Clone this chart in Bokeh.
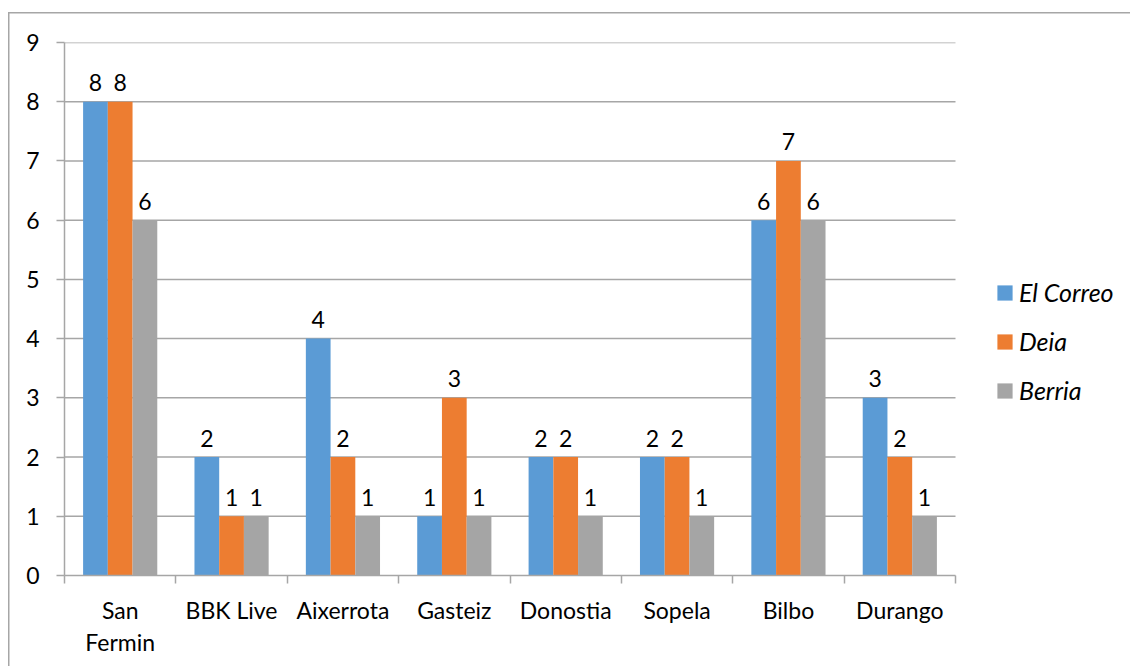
from bokeh.plotting import figure
from bokeh.models import ColumnDataSource, FixedTicker, Legend, LegendItem
from bokeh.transform import dodge
from bokeh.core.properties import value
from bokeh.embed import file_html
from bokeh.resources import INLINE

categories = ["San\nFermin", "BBK Live", "Aixerrota", "Gasteiz", "Donostia", "Sopela", "Bilbo", "Durango"]
el_correo = [8, 2, 4, 1, 2, 2, 6, 3]
deia = [8, 1, 2, 3, 2, 2, 7, 2]
berria = [6, 1, 1, 1, 1, 1, 6, 1]
series_names = ["El Correo", "Deia", "Berria"]
colors = ["#5B9BD5", "#ED7D31", "#A5A5A5"]
y_ticks = list(range(10))

FONT = "Lato"
FS = "23px"
GRID = "#A6A6A6"

n = len(categories)
centers = [i + 0.5 for i in range(n)]
boundaries = list(range(n + 1))

# frame spans the legend area too; categories occupy 891 of 1066 px
x_end = n * 1066.0 / 891.0

src = ColumnDataSource(dict(
    x=centers,
    s0=el_correo, s1=deia, s2=berria,
    t0=[str(v) for v in el_correo],
    t1=[str(v) for v in deia],
    t2=[str(v) for v in berria],
))

p = figure(width=1130, height=666, output_backend="svg", toolbar_location=None,
           x_range=(0, x_end), y_range=(0, 9),
           min_border_left=64, min_border_right=0, min_border_top=42, min_border_bottom=91)
p.outline_line_color = None
p.background_fill_color = None
p.border_fill_color = None

# horizontal gridlines limited to category area
p.segment(x0=0, x1=n, y0=y_ticks[1:], y1=y_ticks[1:], line_color=GRID, line_width=1.5)

bw = 0.222
offsets = [-bw, 0.0, bw]
renderers = []
for i in range(3):
    r = p.vbar(x=dodge("x", offsets[i], range=p.x_range), top="s%d" % i, width=bw,
               source=src, fill_color=colors[i], line_color=None)
    renderers.append(r)
    p.text(x=dodge("x", offsets[i], range=p.x_range), y="s%d" % i, text="t%d" % i,
           source=src, text_align="center", text_baseline="alphabetic", y_offset=-19,
           text_font=value(FONT), text_font_size=FS, text_color="#000000")

# axes
p.yaxis.ticker = FixedTicker(ticks=y_ticks, minor_ticks=[])
p.yaxis.axis_line_color = GRID
p.yaxis.axis_line_width = 1.5
p.yaxis.major_tick_line_color = GRID
p.yaxis.major_tick_line_width = 1.5
p.yaxis.major_tick_out = 8
p.yaxis.major_tick_in = 0
p.yaxis.minor_tick_line_color = None
p.yaxis.major_label_standoff = 17
p.yaxis.major_label_text_font = FONT
p.yaxis.major_label_text_font_size = FS
p.yaxis.major_label_text_color = "#000000"

p.xaxis.ticker = FixedTicker(ticks=centers, minor_ticks=boundaries)
p.xaxis.bounds = (0, n)
p.xaxis.major_label_overrides = {c: lab for c, lab in zip(centers, categories)}
p.xaxis.axis_line_color = GRID
p.xaxis.axis_line_width = 1.5
p.xaxis.major_tick_line_color = None
p.xaxis.major_tick_out = 0
p.xaxis.major_tick_in = 0
p.xaxis.minor_tick_line_color = GRID
p.xaxis.minor_tick_line_width = 1.5
p.xaxis.minor_tick_out = 8
p.xaxis.minor_tick_in = 0
p.xaxis.major_label_standoff = 12
p.xaxis.major_label_text_font = FONT
p.xaxis.major_label_text_font_size = FS
p.xaxis.major_label_text_color = "#000000"
p.xaxis.major_label_text_line_height = 1.15

p.xgrid.grid_line_color = None
p.ygrid.grid_line_color = None

legend = Legend(items=[LegendItem(label=series_names[i], renderers=[renderers[i]]) for i in range(3)],
                location=(931, 170), orientation="vertical",
                glyph_width=19, glyph_height=19, label_height=19, label_standoff=5,
                spacing=19, padding=0, margin=0,
                label_text_font=FONT, label_text_font_size="25px", label_text_font_style="italic",
                label_text_color="#000000",
                border_line_color=None, background_fill_alpha=0)
p.add_layout(legend, "center")

p.styles = {
    "background": "linear-gradient(#A6A6A6,#A6A6A6) 8px 12px / 100% 1.5px no-repeat, "
                  "linear-gradient(#A6A6A6,#A6A6A6) 8px 12px / 1.5px 100% no-repeat, white",
}

open("out.html", "w").write(file_html(p, INLINE))
